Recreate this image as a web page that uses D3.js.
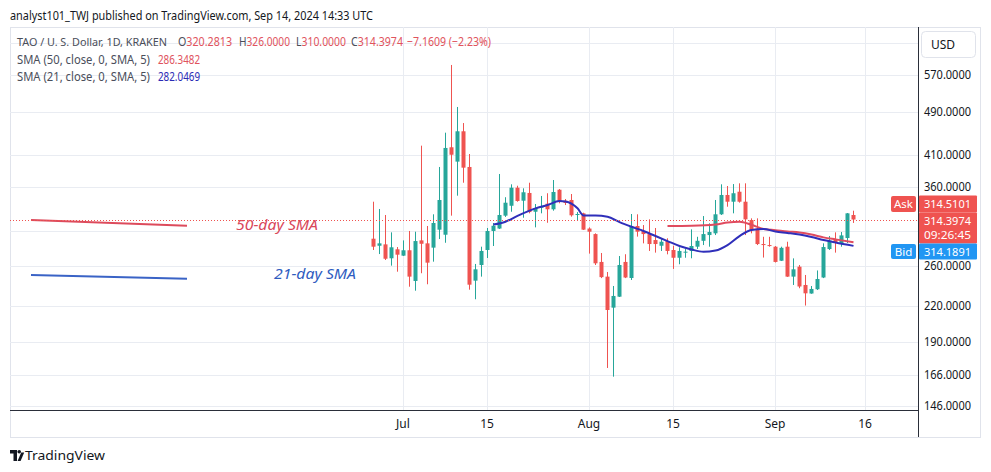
<!DOCTYPE html>
<html>
<head>
<meta charset="utf-8">
<title>TAO / U. S. Dollar, 1D</title>
<script src="https://cdn.jsdelivr.net/npm/d3@7"></script>
<style>
  body { margin: 0; background: #fff; }
  svg text { font-family: "Noto Sans", "Open Sans", sans-serif; }
</style>
</head>
<body>
<div id="chart"></div>
<script>

// ---- data ----
var firstDay = "2024-06-26";   // first candle, one candle per day after that

// [open, high, low, close]
var ohlc = [
  [290.5, 338.3, 277.3, 281.1], [282.2, 328.3, 272.7, 285.0], [283.8, 320.3, 266.1, 267.5],
  [268.0, 298.2, 260.0, 280.4], [278.1, 280.7, 253.6, 272.0], [270.9, 288.5, 270.5, 277.0],
  [277.0, 299.9, 238.4, 248.5], [244.1, 299.0, 234.5, 287.7], [288.5, 426.1, 252.0, 284.5],
  [285.0, 306.1, 240.8, 263.2], [280.0, 321.2, 264.3, 309.9], [301.5, 390.3, 290.1, 340.7],
  [295.3, 449.5, 285.7, 422.1], [423.3, 594.0, 319.4, 410.5], [399.0, 499.7, 346.8, 452.1],
  [452.1, 467.7, 365.8, 389.2], [390.3, 411.7, 235.5, 240.4], [244.4, 261.8, 226.4, 256.1],
  [260.7, 281.1, 248.5, 276.2], [277.3, 303.6, 268.3, 299.9], [299.9, 309.9, 281.9, 306.4],
  [302.9, 379.2, 302.4, 320.3], [319.4, 344.6, 317.7, 336.9], [332.7, 363.4, 324.6, 358.4],
  [358.4, 361.3, 338.3, 339.3], [339.7, 357.5, 316.7, 351.7], [350.7, 365.8, 322.5, 324.2],
  [324.6, 335.1, 304.4, 329.6], [330.0, 346.4, 322.5, 331.4], [335.5, 350.3, 310.2, 327.9],
  [327.9, 369.9, 326.0, 352.1], [355.4, 356.4, 336.1, 338.3], [339.7, 342.1, 333.7, 336.5],
  [340.7, 349.2, 318.1, 319.9], [321.0, 324.2, 313.7, 321.6], [322.5, 323.3, 301.1, 301.5],
  [302.9, 304.4, 273.2, 299.0], [296.1, 297.0, 260.7, 262.5], [264.0, 273.9, 247.0, 248.0],
  [248.5, 253.3, 170.6, 216.6], [218.7, 239.1, 164.6, 229.5], [228.8, 270.5, 228.5, 260.7],
  [264.0, 272.5, 247.0, 247.6], [247.1, 321.6, 245.1, 305.1], [306.1, 321.2, 293.0, 299.0],
  [299.9, 307.3, 285.0, 296.1], [296.1, 314.6, 276.2, 284.2], [288.9, 303.6, 274.3, 284.2],
  [282.2, 291.0, 276.2, 286.9], [287.7, 291.0, 272.4, 276.2], [277.3, 282.2, 256.5, 268.6],
  [268.6, 280.4, 261.5, 276.2], [274.3, 278.4, 268.6, 275.4], [276.2, 301.9, 268.0, 281.9],
  [281.1, 292.8, 278.4, 288.0], [288.0, 318.9, 283.0, 296.1], [294.9, 309.5, 281.1, 298.6],
  [297.0, 340.7, 294.9, 321.2], [321.2, 363.4, 320.3, 347.8], [347.8, 360.9, 331.4, 338.3],
  [338.3, 363.8, 322.5, 350.3], [352.5, 364.9, 337.0, 338.3], [338.3, 364.9, 294.9, 314.6],
  [313.7, 315.9, 297.0, 301.1], [302.9, 315.9, 283.0, 284.2], [284.2, 292.8, 268.8, 283.0],
  [283.0, 292.8, 281.1, 281.9], [281.1, 281.9, 263.4, 264.0], [265.3, 281.1, 265.0, 279.8],
  [281.1, 286.9, 248.2, 248.5], [248.5, 267.9, 240.1, 256.1], [258.9, 260.7, 236.9, 238.6],
  [240.1, 250.2, 220.6, 232.0], [231.8, 239.1, 231.6, 236.2], [235.9, 254.9, 235.2, 246.1],
  [247.6, 285.0, 247.0, 280.7], [278.4, 293.7, 277.3, 288.3], [290.1, 298.2, 274.3, 286.5],
  [284.2, 298.6, 281.1, 294.5], [291.3, 322.9, 285.4, 322.5], [320.2813, 326.0, 310.0, 314.3974]
];

// [day index from firstDay, value]
var sma21 = [
  [20, 307.9], [22, 311.5], [24, 319.2], [27, 329.2], [29, 333.7], [31, 339.3], [32.5, 338.6],
  [34, 329.2], [35.5, 319.6], [37, 319.6], [39, 318.1], [41, 311.1], [43, 305.2], [45, 299.9],
  [47, 293.7], [49, 287.7], [51, 281.9], [53, 277.9], [55, 275.3], [57, 276.7], [59, 283.0],
  [61, 293.7], [63, 301.1], [65, 302.3], [67, 299.3], [69, 297.5], [71, 295.5], [73, 292.5],
  [75, 288.9], [77, 286.0], [80, 282.0469]
];
var sma50 = [
  [49, 306.1], [53, 306.4], [57, 307.9], [59, 310.5], [61, 311.5], [63, 307.6], [65, 302.4],
  [67, 300.9], [69, 299.3], [71, 298.0], [73, 295.5], [75, 292.1], [77, 289.7], [80, 286.3482]
];

var priceTicks = [146, 166, 190, 220, 260, 300, 360, 410, 490, 570, 650];
var dateTicks = ["2024-07-01", "2024-07-15", "2024-08-01", "2024-08-15", "2024-09-01", "2024-09-16"];
var dateTickLabels = ["Jul", "15", "Aug", "15", "Sep", "16"];
var quote = { ask: 314.5101, bid: 314.1891, timer: "09:26:45", change: "\u22127.1609 (\u22122.23%)" };

// ---- setup ----
var width = 991, height = 472;
var plotLeft = 10, plotRight = 918, plotTop = 27, plotBottom = 410;
var upColor = "#26a69a", downColor = "#ef5350";
var textColor = "#131722", gridColor = "#e9ecf2";

var parse = d3.timeParse("%Y-%m-%d");
var start = parse(firstDay);
var dayOf = function(i) { return d3.timeDay.offset(start, i); };

var x = d3.scaleTime()
    .domain([parse("2024-07-01"), parse("2024-09-16")])
    .range([403, 865]);
var y = d3.scaleLog()
    .domain([146, 570])
    .range([405.8, 75]);

var svg = d3.select("#chart").append("svg")
    .attr("width", width)
    .attr("height", height);

svg.append("defs").append("clipPath").attr("id", "plotclip")
  .append("rect").attr("x", plotLeft).attr("y", plotTop)
    .attr("width", plotRight - plotLeft).attr("height", plotBottom - plotTop);

// publisher line
svg.append("text")
    .attr("x", 10).attr("y", 20)
    .attr("font-size", 13)
    .attr("fill", textColor)
    .attr("textLength", 363).attr("lengthAdjust", "spacingAndGlyphs")
    .text("analyst101_TWJ published on TradingView.com, Sep 14, 2024 14:33 UTC");

// panel frame
svg.append("rect")
    .attr("x", 10.5).attr("y", 27.5).attr("width", 970).attr("height", 410)
    .attr("fill", "none").attr("stroke", "#e0e3eb");

var plot = svg.append("g").attr("clip-path", "url(#plotclip)");

// grid
plot.selectAll(".hgrid")
    .data(priceTicks)
    .enter().append("line")
      .attr("x1", plotLeft).attr("x2", plotRight)
      .attr("y1", function(d) { return Math.round(y(d)) + 0.5; })
      .attr("y2", function(d) { return Math.round(y(d)) + 0.5; })
      .attr("stroke", gridColor);

plot.selectAll(".vgrid")
    .data(dateTicks)
    .enter().append("line")
      .attr("x1", function(d) { return Math.round(x(parse(d))) + 0.5; })
      .attr("x2", function(d) { return Math.round(x(parse(d))) + 0.5; })
      .attr("y1", plotTop).attr("y2", plotBottom)
      .attr("stroke", gridColor);

// hand drawn notes on the left
svg.append("line").attr("x1", 31).attr("y1", 220).attr("x2", 187).attr("y2", 225.7)
    .attr("stroke", "#dd4b5c").attr("stroke-width", 2);
svg.append("line").attr("x1", 31).attr("y1", 275).attr("x2", 187).attr("y2", 278.7)
    .attr("stroke", "#3a63c6").attr("stroke-width", 2);
svg.append("text").attr("x", 236).attr("y", 230)
    .attr("font-size", 15).attr("font-style", "italic").attr("fill", "#d9475a")
    .attr("textLength", 82).attr("lengthAdjust", "spacingAndGlyphs")
    .text("50-day SMA");
svg.append("text").attr("x", 274).attr("y", 279)
    .attr("font-size", 15).attr("font-style", "italic").attr("fill", "#2f5cbf")
    .attr("textLength", 82).attr("lengthAdjust", "spacingAndGlyphs")
    .text("21-day SMA");

// candles
var candle = plot.selectAll(".candle")
    .data(ohlc)
    .enter().append("g");

candle.append("line")
    .attr("x1", function(d, i) { return Math.round(x(dayOf(i))) + 0.5; })
    .attr("x2", function(d, i) { return Math.round(x(dayOf(i))) + 0.5; })
    .attr("y1", function(d) { return y(d[1]); })
    .attr("y2", function(d) { return y(d[2]); })
    .attr("stroke", function(d) { return d[3] >= d[0] ? upColor : downColor; });

candle.append("rect")
    .attr("x", function(d, i) { return Math.round(x(dayOf(i))) - 1.5; })
    .attr("width", 4)
    .attr("y", function(d) { return y(Math.max(d[0], d[3])); })
    .attr("height", function(d) { return Math.max(1, Math.abs(y(d[0]) - y(d[3]))); })
    .attr("fill", function(d) { return d[3] >= d[0] ? upColor : downColor; });

// moving averages
var smaLine = d3.line()
    .x(function(d) { return x(dayOf(d[0])) + 0.5; })
    .y(function(d) { return y(d[1]); })
    .curve(d3.curveMonotoneX);

plot.append("path").datum(sma50)
    .attr("d", smaLine).attr("fill", "none")
    .attr("stroke", "#e04b5f").attr("stroke-width", 2);
plot.append("path").datum(sma21)
    .attr("d", smaLine).attr("fill", "none")
    .attr("stroke", "#2f2fba").attr("stroke-width", 2);

// last price dotted line
var last = ohlc[ohlc.length - 1];
var lastY = Math.round(y(last[3])) + 0.5;
svg.append("line")
    .attr("x1", plotLeft).attr("x2", plotRight)
    .attr("y1", lastY).attr("y2", lastY)
    .attr("stroke", downColor).attr("stroke-dasharray", "1,2");

// axis lines
svg.append("line").attr("x1", plotRight + 0.5).attr("x2", plotRight + 0.5).attr("y1", plotTop).attr("y2", 437)
    .attr("stroke", "#2a2e39");
svg.append("line").attr("x1", plotLeft).attr("x2", plotRight).attr("y1", plotBottom + 0.5).attr("y2", plotBottom + 0.5)
    .attr("stroke", "#2a2e39");

// price tags area (ask / last / bid), labels under it are hidden like on the chart
var tagTop = lastY - 8;
var tagSpan = [tagTop - 17, tagTop + 47];

// price labels
svg.selectAll(".ylab")
    .data(priceTicks.filter(function(d) {
      return y(d) > 60 && (y(d) < tagSpan[0] - 4 || y(d) > tagSpan[1] + 4);
    }))
    .enter().append("text")
      .attr("x", 924)
      .attr("y", function(d) { return y(d) + 4; })
      .attr("font-size", 12)
      .attr("fill", textColor)
      .attr("textLength", 47).attr("lengthAdjust", "spacingAndGlyphs")
      .text(function(d) { return d3.format(".4f")(d); });

// date labels
svg.selectAll(".xlab")
    .data(dateTicks)
    .enter().append("text")
      .attr("x", function(d) { return x(parse(d)); })
      .attr("y", 428)
      .attr("text-anchor", "middle")
      .attr("font-size", 12)
      .attr("fill", textColor)
      .text(function(d, i) { return dateTickLabels[i]; });

// currency box
svg.append("rect").attr("x", 921.5).attr("y", 31.5).attr("width", 54).attr("height", 26).attr("rx", 4)
    .attr("fill", "#fff").attr("stroke", "#e0e3eb");
svg.append("text").attr("x", 931).attr("y", 48.5).attr("font-size", 12).attr("fill", textColor).text("USD");

var tags = [
  { name: "Ask", color: "#ef5350", y0: tagTop - 17, h: 17, lines: [d3.format(".4f")(quote.ask)] },
  { name: null, color: "#ef5350", y0: tagTop, h: 31, lines: [d3.format(".4f")(last[3]), quote.timer] },
  { name: "Bid", color: "#2196f3", y0: tagTop + 31, h: 16, lines: [d3.format(".4f")(quote.bid)] }
];
tags.forEach(function(t) {
  if (t.name) {
    svg.append("rect").attr("x", 891).attr("y", t.y0 + 0.5).attr("width", 25).attr("height", t.h - 1)
        .attr("rx", 2).attr("fill", t.color);
    svg.append("text").attr("x", 903.5).attr("y", t.y0 + t.h / 2 + 4)
        .attr("text-anchor", "middle").attr("font-size", 11.5).attr("fill", "#fff").text(t.name);
  }
  svg.append("rect").attr("x", 919).attr("y", t.y0).attr("width", 58).attr("height", t.h)
      .attr("rx", 1).attr("fill", t.color);
  t.lines.forEach(function(s, k) {
    svg.append("text").attr("x", 924).attr("y", t.y0 + 12 + k * 14.5)
        .attr("font-size", 10.5).attr("fill", "#fff")
        .attr("textLength", 47).attr("lengthAdjust", "spacingAndGlyphs")
        .text(s);
  });
});

// legend
var legendGray = "#4a4e5a", legendRed = "#e0535d", legendBlue = "#2b2bb5";
svg.append("text").attr("x", 17).attr("y", 46).attr("font-size", 11).attr("fill", legendGray)
    .attr("textLength", 150).attr("lengthAdjust", "spacingAndGlyphs")
    .text("TAO / U. S. Dollar, 1D, KRAKEN");

var ohlcLegend = [
  ["O", last[0], 178, 54], ["H", last[1], 239, 51], ["L", last[2], 296, 50], ["C", last[3], 351, 52]
];
ohlcLegend.forEach(function(o) {
  var t = svg.append("text").attr("x", o[2]).attr("y", 46).attr("font-size", 12)
      .attr("textLength", o[3]).attr("lengthAdjust", "spacingAndGlyphs");
  t.append("tspan").attr("fill", legendGray).text(o[0]);
  t.append("tspan").attr("fill", legendRed).text(d3.format(".4f")(o[1]));
});
svg.append("text").attr("x", 407).attr("y", 46).attr("font-size", 12).attr("fill", legendRed)
    .attr("textLength", 84).attr("lengthAdjust", "spacingAndGlyphs")
    .text(quote.change);

[["SMA (50, close, 0, SMA, 5)", sma50, legendRed, 64], ["SMA (21, close, 0, SMA, 5)", sma21, legendBlue, 81]]
  .forEach(function(s) {
    svg.append("text").attr("x", 17).attr("y", s[3]).attr("font-size", 12).attr("fill", legendGray)
        .attr("textLength", 133).attr("lengthAdjust", "spacingAndGlyphs").text(s[0]);
    svg.append("text").attr("x", 158).attr("y", s[3]).attr("font-size", 12).attr("fill", s[2])
        .attr("textLength", 42).attr("lengthAdjust", "spacingAndGlyphs")
        .text(d3.format(".4f")(s[1][s[1].length - 1][1]));
  });

// TradingView mark
var logo = svg.append("g").attr("fill", textColor);
logo.append("path").attr("d", "M10 450 h7 v11 h-3.5 v-7.5 h-3.5 z");
logo.append("circle").attr("cx", 19.2).attr("cy", 451.8).attr("r", 1.8);
logo.append("path").attr("d", "M17.6 461 l3.6 -8.6 h3 l-3.6 8.6 z");
svg.append("text").attr("x", 25).attr("y", 460).attr("font-size", 13).attr("fill", textColor)
    .attr("textLength", 80).attr("lengthAdjust", "spacingAndGlyphs")
    .text("TradingView");

</script>
</body>
</html>
